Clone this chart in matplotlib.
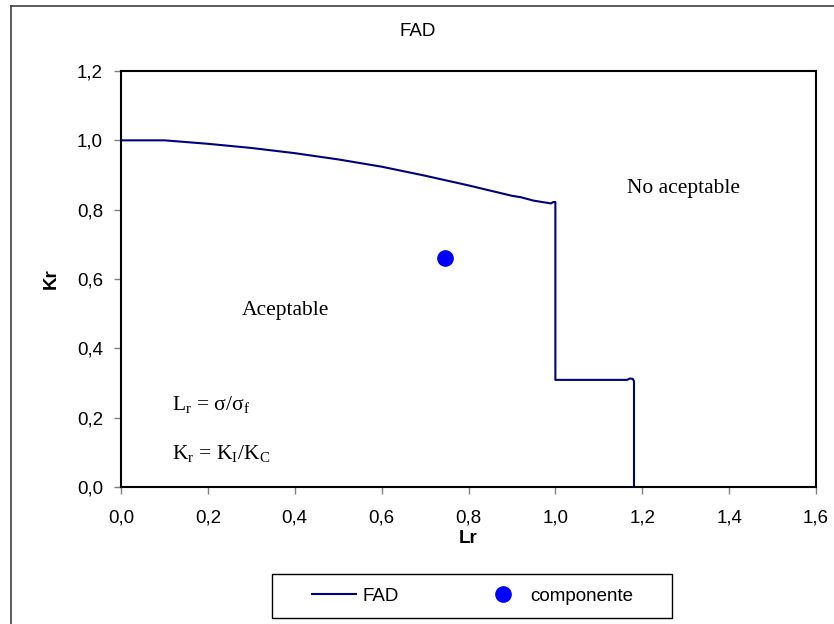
import matplotlib
matplotlib.use("Agg")
import matplotlib.pyplot as plt
from matplotlib.lines import Line2D
from matplotlib.patches import Rectangle

# FAD curve
lr_fad = [0.0, 0.1, 0.2, 0.3, 0.4, 0.5, 0.6, 0.7, 0.8, 0.9, 0.92, 0.95, 0.99, 0.995, 1.0,
          1.0, 1.165, 1.172, 1.178, 1.181, 1.181]
kr_fad = [1.0, 1.0, 0.99, 0.978, 0.963, 0.945, 0.924, 0.898, 0.870, 0.840, 0.836, 0.826, 0.818,
          0.822, 0.822, 0.309, 0.309, 0.313, 0.312, 0.305, 0.0]

# assessed component
lr_comp = [0.747]
kr_comp = [0.66]

xticks = [0.0, 0.2, 0.4, 0.6, 0.8, 1.0, 1.2, 1.4, 1.6]
yticks = [0.0, 0.2, 0.4, 0.6, 0.8, 1.0, 1.2]

sans = "Liberation Sans"
serif = "Liberation Serif"
plt.rcParams["mathtext.fontset"] = "custom"
plt.rcParams["mathtext.rm"] = serif

W, H = 834, 624
fig = plt.figure(figsize=(W / 100, H / 100), dpi=100)
ax = fig.add_axes([121 / W, 1 - 487 / H, (816 - 121) / W, (487 - 71) / H])

navy = "#000080"
blue = "#0000ff"
ax.plot(lr_fad, kr_fad, color=navy, lw=1.5, solid_joinstyle="round")
ax.plot(lr_comp, kr_comp, "o", color=blue, markersize=11)

ax.set_xlim(0, 1.6)
ax.set_ylim(0, 1.2)
ax.set_xticks(xticks)
ax.set_yticks(yticks)
ax.set_xticklabels([f"{t:.1f}".replace(".", ",") for t in xticks])
ax.set_yticklabels([f"{t:.1f}".replace(".", ",") for t in yticks])

for lab in ax.get_xticklabels() + ax.get_yticklabels():
    lab.set_family(sans)
    lab.set_fontsize(13.5)
ax.tick_params(direction="out", length=5, width=1, color="#808080")
ax.tick_params(axis="x", pad=11)
ax.tick_params(axis="y", pad=8)
for s in ax.spines.values():
    s.set_linewidth(1.5)
    s.set_color("black")

ax.set_xlabel("Lr", family=sans, fontsize=13.5, fontweight="bold", labelpad=3)
ax.set_ylabel("Kr", family=sans, fontsize=13.5, fontweight="bold", labelpad=12)

fig.text(418 / W, 1 - 32 / H, "FAD", family=sans, fontsize=13.5, ha="center", va="center")

ax.text(1.165, 0.862, "No aceptable", family=serif, fontsize=15.5, va="center")
ax.text(0.279, 0.51, "Aceptable", family=serif, fontsize=15.5, va="center")
ax.text(0.117, 0.222, r"L$_\mathregular{r}$ = σ/σ$_\mathregular{f}$", family=serif,
        fontsize=15.5, va="baseline")
ax.text(0.117, 0.08, r"K$_\mathregular{r}$ = K$_\mathregular{I}$/K$_\mathregular{C}$", family=serif,
        fontsize=15.5, va="baseline")

# chart-area border (only left and top visible)
fig.add_artist(Line2D([11 / W, 11 / W], [0, 1 - 6 / H], color="#404040", lw=1.2))
fig.add_artist(Line2D([11 / W, 1], [1 - 6 / H, 1 - 6 / H], color="#404040", lw=1.2))

# legend box
fig.add_artist(Rectangle((272 / W, 1 - 618 / H), 400 / W, 44 / H, transform=fig.transFigure,
                         facecolor="none", edgecolor="black", lw=1.0))
handles = [Line2D([], [], color=navy, lw=1.5),
           Line2D([], [], marker="o", color=blue, ls="none", markersize=11)]
fig.legend(handles, ["FAD", "componente"], ncol=2, loc="center",
           bbox_to_anchor=(473 / W, 1 - 596 / H), frameon=False,
           prop={"family": sans, "size": 13.5}, columnspacing=4.4, handlelength=2.35,
           borderpad=0.0, handletextpad=0.3)

fig.savefig("out.png", dpi=100)
